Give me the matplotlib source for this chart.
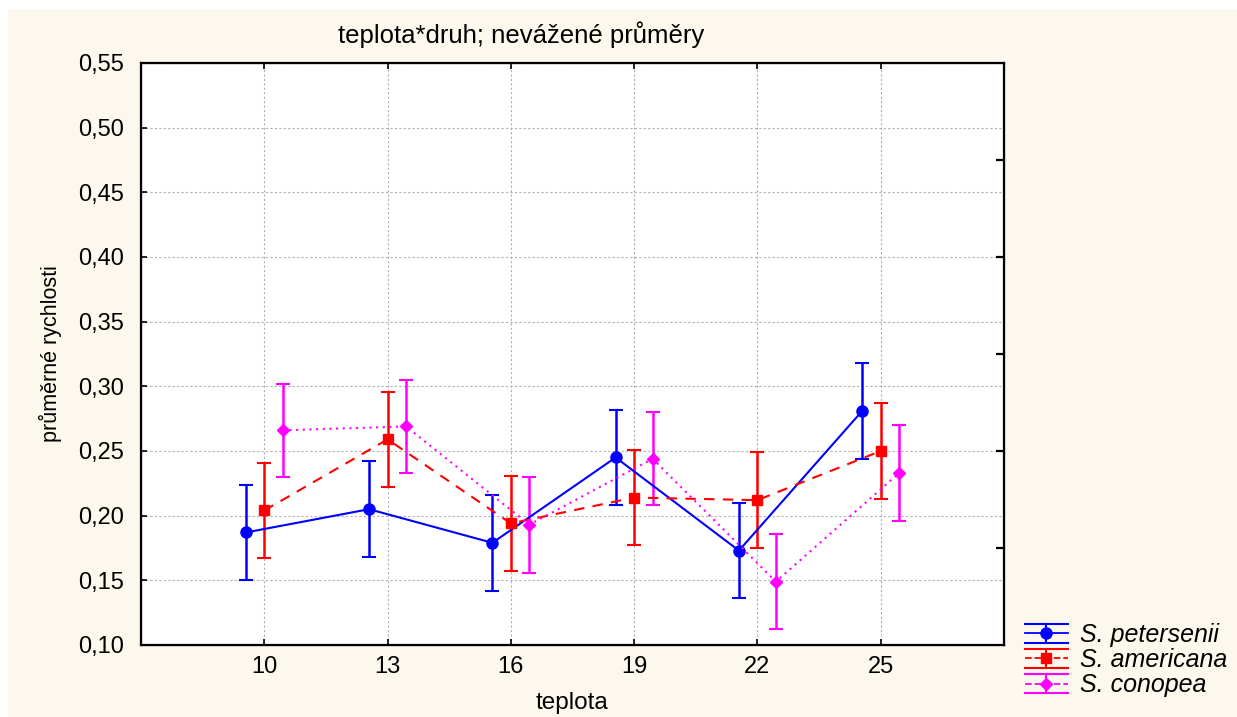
import numpy as np
import matplotlib
matplotlib.use("Agg")
import matplotlib.pyplot as plt
from matplotlib.lines import Line2D
from matplotlib.patches import Rectangle
from matplotlib.legend_handler import HandlerBase
from matplotlib.container import ErrorbarContainer
from matplotlib.ticker import FuncFormatter

#=====================================================
# data
teploty = ["10", "13", "16", "19", "22", "25"]
druhy = ["S. petersenii", "S. americana", "S. conopea"]

prumer_petersenii = [0.187, 0.205, 0.179, 0.245, 0.173, 0.281]
chyba_petersenii = [0.037, 0.037, 0.037, 0.037, 0.037, 0.037]

prumer_americana = [0.204, 0.259, 0.194, 0.214, 0.212, 0.250]
chyba_americana = [0.037, 0.037, 0.037, 0.037, 0.037, 0.037]

prumer_conopea = [0.266, 0.269, 0.193, 0.244, 0.149, 0.233]
chyba_conopea = [0.036, 0.036, 0.037, 0.036, 0.037, 0.037]

#=====================================================
plt.rcParams['font.family'] = ['Liberation Sans', 'DejaVu Sans']

krem = '#fdf8ee'


class StatHandler(HandlerBase):
    # legend symbol like in Statistica: bars on top and bottom, whisker, marker
    def create_artists(self, legend, orig_handle, xdescent, ydescent,
                       width, height, fontsize, trans):
        ln = orig_handle.lines[0]
        c = ln.get_color()
        x0, x1 = -xdescent, -xdescent + width
        y0, y1 = -ydescent, -ydescent + height
        ym = (y0 + y1) / 2
        xm = (x0 + x1) / 2
        art = []
        for y in (y0, y1):
            art.append(Line2D([x0, x1], [y, y], color=c, lw=1.5))
        art.append(Line2D([xm, xm], [y0, y1], color=c, lw=1.5))
        art.append(Line2D([x0, x1], [ym, ym], color=c, lw=1.3,
                          linestyle=ln.get_linestyle()))
        art.append(Line2D([xm], [ym], color=c, marker=ln.get_marker(),
                          markersize=ln.get_markersize(), linestyle='none'))
        for a in art:
            a.set_transform(trans)
        return art


fig = plt.figure(figsize=(12.37, 7.17), dpi=100, facecolor='white')
fig.patches.append(Rectangle((8 / 1237, 0), 1, 1 - 9 / 717, transform=fig.transFigure,
                             facecolor=krem, edgecolor='none', zorder=-10))

ax = fig.add_axes([141 / 1237, 1 - 645 / 717, (1004 - 141) / 1237, (645 - 63) / 717])
ax.set_facecolor('white')

x = np.arange(len(teploty))
posun = 0.15

serie = [
    (prumer_petersenii, chyba_petersenii, -posun, '#0000ff', '-', 'o', 8),
    (prumer_americana, chyba_americana, 0.0, '#ff0000', (0, (5, 4)), 's', 7.5),
    (prumer_conopea, chyba_conopea, posun, '#ff00ff', (0, (1, 2.2)), 'D', 6),
]

handles = []
for (prumer, chyba, dx, barva, styl, znacka, ms), druh in zip(serie, druhy):
    h = ax.errorbar(x + dx, prumer, yerr=chyba, color=barva, linestyle=styl, lw=1.5,
                    marker=znacka, markersize=ms, elinewidth=1.8, capsize=5,
                    capthick=1.5, label=druh, zorder=3)
    handles.append(h)

ax.set_xlim(-1, 6)
ax.set_ylim(0.10, 0.55)
ax.set_xticks(x)
ax.set_xticklabels(teploty)
ax.set_yticks(np.arange(0.10, 0.551, 0.05))
ax.yaxis.set_major_formatter(FuncFormatter(lambda v, p: ("%.2f" % v).replace('.', ',')))

ax.grid(True, color='#b0b0b0', linestyle=(0, (2, 2)), lw=0.8)
ax.tick_params(direction='in', length=4, width=1.2, labelsize=17,
               top=True, right=False)
ax.tick_params(axis='x', pad=8)
ax.tick_params(axis='y', pad=12)
for s in ax.spines.values():
    s.set_linewidth(1.6)

# right axis with its own ticks
ax2 = ax.twinx()
ax2.set_ylim(0.10, 0.55)
ax2.set_yticks([0.175, 0.25, 0.325, 0.40, 0.475])
ax2.tick_params(direction='in', length=6, width=1.6, labelright=False)

fig.text(521 / 1237, 1 - 35 / 717, "teplota*druh; nevážené průměry",
         fontsize=18.5, ha='center', va='center')
ax.set_xlabel("teplota", fontsize=17.5, labelpad=10)
ax.set_ylabel("průměrné rychlosti", fontsize=15.5, labelpad=12)

fig.legend(handles=handles, labels=druhy, loc='center left',
           bbox_to_anchor=(1025 / 1237, 1 - 660 / 717),
           frameon=False, prop={'style': 'italic', 'size': 18},
           handlelength=1.7, handleheight=0.8, labelspacing=0.05,
           handletextpad=0.5, borderpad=0, borderaxespad=0,
           handler_map={ErrorbarContainer: StatHandler()})

plt.savefig("out.png", dpi=100, facecolor=fig.get_facecolor())
